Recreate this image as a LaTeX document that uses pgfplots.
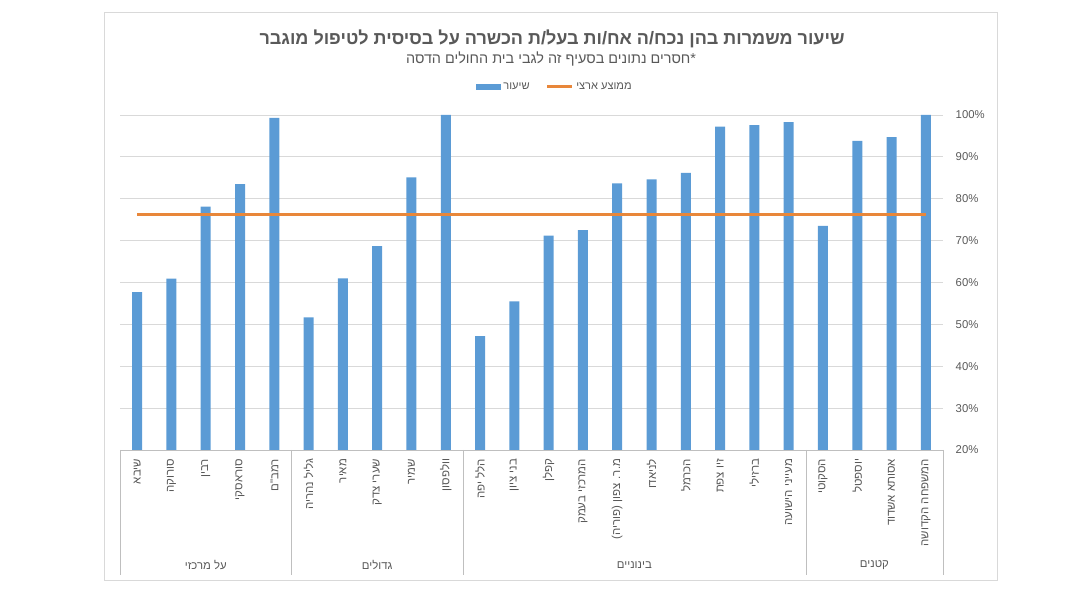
\documentclass[border=0pt]{standalone}
\usepackage{fontspec}
\setmainfont{Liberation Sans}
\newfontfamily\hebfont[Script=Hebrew]{Liberation Sans}
\TeXXeTstate=1
\usepackage{pgfplots}
\pgfplotsset{compat=1.18}
\definecolor{barblue}{HTML}{5B9BD5}
\definecolor{avgorange}{HTML}{E8873A}
\definecolor{txtgray}{HTML}{595959}
\definecolor{gridgray}{HTML}{D9D9D9}
\definecolor{axgray}{HTML}{BFBFBF}
\begin{document}
\begin{tikzpicture}
\path[use as bounding box] (0,0) rectangle (810pt,454.5pt);
\draw[gridgray] (78pt,445.5pt) rectangle (747.75pt,19.5pt);
\node[font=\hebfont\bfseries\fontsize{13.5}{16}\selectfont, text=txtgray] at (414pt,425.5pt)
  {\beginR שיעור משמרות בהן נכח/ה אח/ות בעל/ת הכשרה על בסיסית לטיפול מוגבר\endR};
\node[font=\hebfont\fontsize{10.8}{12}\selectfont, text=txtgray] at (413.25pt,410.5pt)
  {\beginR *חסרים נתונים בסעיף זה לגבי בית החולים הדסה\endR};
\begin{axis}[
  at={(90pt,117pt)}, anchor=south west,
  width=617.25pt, height=251.25pt, scale only axis,
  xmin=-0.5, xmax=23.5, ymin=20, ymax=100,
  ytick={20,30,...,100},
  yticklabel={\pgfmathprintnumber{\tick}\%},
  /pgf/number format/assume math mode=true,
  axis x line*=bottom, axis y line*=right,
  x axis line style={axgray, -}, y axis line style={draw=none},
  ymajorgrids, grid style={gridgray, line width=0.6pt},
  major tick length=0pt,
  yticklabel style={font=\fontsize{8.5}{10}\selectfont, text=txtgray, anchor=west, xshift=6pt},
  xtick={0,...,23},
  xticklabels={{\beginR שיבא\endR},{\beginR סורוקה\endR},{\beginR רבין\endR},
    {\beginR סוראסקי\endR},{\beginR רמב"ם\endR},
    {\beginR גליל נהריה\endR},{\beginR מאיר\endR},{\beginR שערי צדק\endR},
    {\beginR שמיר\endR},{\beginR וולפסון\endR},
    {\beginR הלל יפה\endR},{\beginR בני ציון\endR},{\beginR קפלן\endR},
    {\beginR המרכזי בעמק\endR},{\beginR מ.ר. צפון (פוריה)\endR},
    {\beginR לניאדו\endR},{\beginR הכרמל\endR},{\beginR זיו צפת\endR},
    {\beginR ברזילי\endR},{\beginR מעייני הישועה\endR},
    {\beginR הסקוטי\endR},{\beginR יוספטל\endR},{\beginR אסותא אשדוד\endR},
    {\beginR המשפחה הקדושה\endR}},
  xticklabel style={rotate=90, anchor=east, font=\hebfont\fontsize{8.6}{10}\selectfont, text=txtgray, inner xsep=6.5pt},
  clip=false,
  legend columns=2,
  legend style={at={(0.5286,1.0836)}, anchor=center, draw=none, fill=none,
    font=\hebfont\fontsize{8.3}{10}\selectfont, text=txtgray,
    /tikz/every even column/.append style={column sep=10pt}},
]
\addplot[ybar, bar width=7.5pt, fill=barblue, draw=none,
  legend image code/.code={\fill[barblue] (0pt,-2.4pt) rectangle (18.75pt,2.4pt);}]
  coordinates {
  (0,57.7) (1,60.9) (2,78.1) (3,83.5) (4,99.3)
  (5,51.7) (6,61.0) (7,68.7) (8,85.1) (9,100)
  (10,47.2) (11,55.5) (12,71.2) (13,72.5) (14,83.7)
  (15,84.6) (16,86.2) (17,97.2) (18,97.6) (19,98.3)
  (20,73.5) (21,93.8) (22,94.7) (23,100)
};
\addlegendentry{\beginR שיעור\endR}
\addplot[avgorange, line width=2.25pt, no marks,
  legend image code/.code={\draw[avgorange, line width=2.25pt] (0pt,0pt) -- (18.75pt,0pt);}]
  coordinates {
  (0,76.2) (1,76.2) (2,76.2) (3,76.2) (4,76.2) (5,76.2) (6,76.2) (7,76.2)
  (8,76.2) (9,76.2) (10,76.2) (11,76.2) (12,76.2) (13,76.2) (14,76.2) (15,76.2)
  (16,76.2) (17,76.2) (18,76.2) (19,76.2) (20,76.2) (21,76.2) (22,76.2) (23,76.2)
};
\addlegendentry{\beginR ממוצע ארצי\endR}
\pgfplotsinvokeforeach{-0.5,4.5,9.5,19.5,23.5}{
  \draw[axgray] (axis cs:#1,20) -- ([yshift=-93.75pt]axis cs:#1,20);
}
\node[font=\hebfont\fontsize{8.5}{10}\selectfont, text=txtgray] at ([yshift=-86.25pt]axis cs:2,20) {\beginR על מרכזי\endR};
\node[font=\hebfont\fontsize{8.5}{10}\selectfont, text=txtgray] at ([yshift=-86.25pt]axis cs:7,20) {\beginR גדולים\endR};
\node[font=\hebfont\fontsize{8.5}{10}\selectfont, text=txtgray] at ([yshift=-86.25pt]axis cs:14.5,20) {\beginR בינוניים\endR};
\node[font=\hebfont\fontsize{8.5}{10}\selectfont, text=txtgray] at ([yshift=-86.25pt]axis cs:21.5,20) {\beginR קטנים\endR};
\end{axis}
\end{tikzpicture}
\end{document}
